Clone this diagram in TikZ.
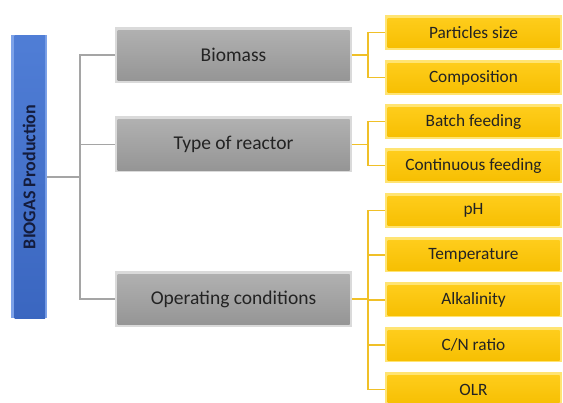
\documentclass[tikz,border=0pt]{standalone}
\usepackage{fontspec}
\setmainfont{Carlito}
\definecolor{txt}{RGB}{35,35,35}
\definecolor{grayedge}{RGB}{218,218,218}
\definecolor{graytop}{RGB}{178,178,178}
\definecolor{graybot}{RGB}{148,148,148}
\definecolor{yeledge}{RGB}{255,228,115}
\definecolor{yeltop}{RGB}{255,206,30}
\definecolor{yelbot}{RGB}{246,190,0}
\definecolor{blueedge}{RGB}{125,162,232}
\definecolor{bluetop}{RGB}{80,126,214}
\definecolor{bluebot}{RGB}{58,102,192}
\definecolor{bluetxt}{RGB}{20,28,60}
\definecolor{gline}{RGB}{165,165,165}
\definecolor{yline}{RGB}{240,192,40}
\tikzset{
	bevel/.style n args={3}{fill=#1, path picture={
		\shade[top color=#2, bottom color=#3]
			([shift={(2.5pt,-3.5pt)}]path picture bounding box.north west) rectangle
			([shift={(-2.5pt,2pt)}]path picture bounding box.south east);}},
	graybox/.style={bevel={grayedge}{graytop}{graybot}, minimum width=237pt, minimum height=56pt,
		text=txt, font=\fontsize{19.5}{22}\selectfont},
	yelbox/.style={bevel={yeledge}{yeltop}{yelbot}, minimum width=177pt, minimum height=35pt,
		text=txt, font=\fontsize{17.3}{20}\selectfont},
	mainbox/.style={bevel={blueedge}{bluetop}{bluebot}, minimum width=283pt, minimum height=36pt,
		text=bluetxt, font=\fontsize{18}{20}\selectfont\bfseries, rotate=90},
	grayline/.style={draw=gline, line width=1.3pt},
	yelline/.style={draw=yline, line width=1.5pt},
}
\begin{document}
\begin{tikzpicture}[x=1pt, y=-1pt]
	\useasboundingbox (0,0) rectangle (563,403);
	
	%main box
	\node (biogas) at (29,177) [mainbox]{BIOGAS Production};
	
	%factors
	\node (bio) at (233.5,55) [graybox]{Biomass};
	\node (reac) at (233.5,144.5) [graybox]{Type of reactor};
	\node (oper) at (233.5,299) [graybox]{Operating conditions};
	
	%gray tree
	\coordinate (trunk) at (80,177);
	\draw[grayline] (biogas.south) -- (trunk);
	\foreach \f in {bio, reac, oper}{
		\draw[grayline] (trunk) |- (\f.west);
	}
	
	%sub-factors
	\node (psize) at (473.5,32.5) [yelbox]{Particles size};
	\node (comp) at (473.5,77.5) [yelbox]{Composition};
	\node (batch) at (473.5,121.5) [yelbox]{Batch feeding};
	\node (cont) at (473.5,165.5) [yelbox]{Continuous feeding};
	\node (ph) at (473.5,210.5) [yelbox]{pH};
	\node (temp) at (473.5,255) [yelbox]{Temperature};
	\node (alk) at (473.5,300) [yelbox]{Alkalinity};
	\node (cn) at (473.5,345) [yelbox]{C/N ratio};
	\node (olr) at (473.5,389.5) [yelbox]{OLR};
	
	%yellow trees
	\coordinate (hbio) at (368,55);
	\coordinate (hreac) at (368,144.5);
	\coordinate (hoper) at (368,299);
	\draw[yelline] (bio.east) -- (hbio);
	\draw[yelline] (reac.east) -- (hreac);
	\draw[yelline] (oper.east) -- (hoper);
	\foreach \s in {psize, comp}{
		\draw[yelline] (hbio) |- (\s.west);
	}
	\foreach \s in {batch, cont}{
		\draw[yelline] (hreac) |- (\s.west);
	}
	\foreach \s in {ph, temp, alk, cn, olr}{
		\draw[yelline] (hoper) |- (\s.west);
	}
\end{tikzpicture}
\end{document}
